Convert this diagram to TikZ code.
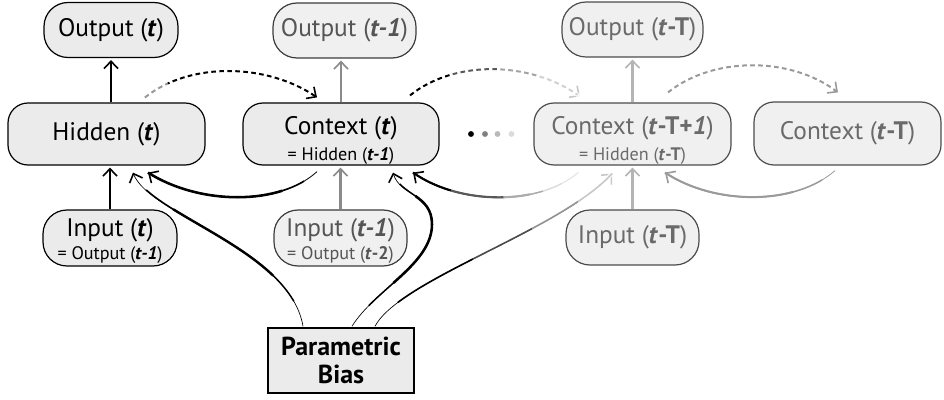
\documentclass[tikz,border=0pt]{standalone}
\usepackage{fontspec}
\setmainfont{PT Sans}
\usetikzlibrary{arrows.meta,calc}
\newcommand{\tbi}[1]{\textbf{\textit{#1}}}
\newcommand{\tbu}[1]{\textbf{#1}}
\newcommand{\subt}[1]{{\fontsize{13.6}{13.6}\selectfont #1}}
\definecolor{fillA}{HTML}{EBEBEB}
\definecolor{fillB}{HTML}{F0F0F0}
\definecolor{txtB}{HTML}{555555}
\definecolor{txtC}{HTML}{6A6A6A}
\definecolor{brdB}{HTML}{3C3C3C}
\definecolor{brdC}{HTML}{4C4C4C}
\definecolor{arrB}{HTML}{8A8A8A}
\definecolor{arrC}{HTML}{B4B4B4}
\definecolor{crvC}{HTML}{9A9A9A}
\definecolor{tipL}{HTML}{C8C8C8}
\begin{document}
\begin{tikzpicture}[x=0.75pt,y=-0.75pt,
  box/.style={draw, line width=0.9pt, fill=fillA, inner sep=0pt, align=center,
              font=\fontsize{19}{19}\selectfont},
  pill/.style={box, rounded corners=18pt},
  rbox/.style={box, rounded corners=15pt},
  grpB/.style={draw=brdB, fill=fillB, text=txtB},
  grpC/.style={draw=brdC, fill=fillB, text=txtC},
  twotxt/.style={align=center, inner sep=0pt, font=\fontsize{19}{19}\selectfont},
  tip/.style={-{Straight Barb[length=5.5pt,width=10.5pt,line width=1.2pt]}},
  tipc/.style={-{Straight Barb[length=5.5pt,width=10.5pt,line width=1.2pt,color=#1]}},
  vert/.style={tip, line width=1.9pt, shorten >=1.5pt},
  dsh/.style={dash pattern=on 3.5pt off 2.5pt, line width=1.5pt},
  thick mid/.style 2 args={postaction={draw,-,line width=#1,dash pattern=#2}},
  fade/.style 2 args={postaction={draw=white,-,opacity=#1,line width=3pt,dash pattern=#2}},
]
\useasboundingbox (0,0) rectangle (944,399);

% nodes
\node[pill, minimum width=100.5pt, minimum height=41.25pt] (out1) at (111,30) {Output (\tbi{t})};
\node[rbox, minimum width=147.75pt, minimum height=46.5pt] (hid) at (106.5,134) {Hidden (\tbi{t})};
\node[pill, minimum width=100.5pt, minimum height=42pt,
      label={[twotxt, name=in1t, yshift=-2pt]center:{Input (\tbi{t})\\[-2pt]\subt{= Output (\tbi{t-1})}}}]
      (in1) at (110,238) {};

\node[pill, grpB, minimum width=107.25pt, minimum height=41.25pt] (out2) at (344.5,30.5) {Output (\tbi{t-1})};
\node[rbox, minimum width=147pt, minimum height=46.5pt,
      label={[twotxt, name=ctx1t, yshift=-4.5pt]center:{Context (\tbi{t})\\[0.5pt]\subt{= Hidden (\tbi{t-1})}}}]
      (ctx1) at (341,134) {};
\node[pill, grpB, minimum width=99.75pt, minimum height=42pt,
      label={[twotxt, text=txtB, name=in2t, yshift=-2pt]center:{Input (\tbi{t-1})\\[-2pt]\subt{= Output (\tbi{t}\tbu{-2})}}}]
      (in2) at (340.5,238) {};

\node[pill, grpC, minimum width=105.75pt, minimum height=41.25pt] (out3) at (632.5,29.5) {Output (\tbi{t}\tbu{-T})};
\node[rbox, grpC, minimum width=147.75pt, minimum height=46.5pt,
      label={[twotxt, text=txtC, name=ctx2t, yshift=-4.5pt]center:{Context (\tbi{t}\tbu{-T+}\tbi{1})\\[0.5pt]\subt{= Hidden (\tbi{t}\tbu{-T})}}}]
      (ctx2) at (632.5,134) {};
\node[rbox, grpC, minimum width=140.25pt, minimum height=47.25pt] (ctx3) at (847.5,133.5) {Context (\tbi{t}\tbu{-T})};
\node[pill, grpC, minimum width=99.75pt, minimum height=41.25pt] (in3) at (632.5,237.5) {Input (\tbi{t}\tbu{-T})};

\node[draw, line width=1.1pt, fill=fillA, inner sep=0pt, minimum width=109.5pt, minimum height=48.75pt,
      align=center, font=\bfseries\fontsize{19.5}{21.5}\selectfont] (pb) at (341,360.5) {Parametric\\Bias};

% dots
\fill[black] (471,134) circle (2.2pt);
\fill[black!50] (485,134) circle (2.2pt);
\fill[black!27] (497.5,134) circle (2.2pt);
\fill[black!14] (511.5,134) circle (2.2pt);

% vertical arrows
\draw[vert] (in1.north) -- (in1.north |- hid.south);
\draw[vert] (out1.south |- hid.north) -- (out1.south);
\draw[vert, draw=arrB] (in2.north) -- (in2.north |- ctx1.south);
\draw[vert, draw=arrB] (ctx1.north) -- (ctx1.north |- out2.south);
\draw[vert, draw=arrC] (in3.north) -- (in3.north |- ctx2.south);
\draw[vert, draw=arrC] (ctx2.north) -- (ctx2.north |- out3.south);

% dashed forward arcs
\draw[tip, dsh, fade={0.6}{on 20pt off 500pt}]
  ($(hid.north)+(38.5,-5)$) .. controls +(45,-36) and +(-50,-34) .. ($(ctx1.north)+(-24,-5)$);
\draw[tipc=tipL, dsh,
      fade={0.35}{on 0pt off 35pt on 500pt off 10pt},
      fade={0.45}{on 0pt off 70pt on 500pt off 10pt},
      fade={0.5}{on 0pt off 100pt on 500pt off 10pt}]
  ($(ctx1.north)+(69,-7)$) .. controls +(45,-36) and +(-50,-35) .. ($(ctx2.north)+(-52.5,-6)$);
\draw[tip, dsh, draw=crvC]
  ($(ctx2.north)+(35.5,-10)$) .. controls +(45,-36) and +(-48,-36) .. ($(ctx3.north)+(-9.5,-9)$);

% backward curves
\draw[tip, line width=0.6pt,
      thick mid={1.2pt}{on 0pt off 12pt on 200pt off 10pt},
      thick mid={1.9pt}{on 0pt off 30pt on 200pt off 10pt}]
  ($(ctx1.south)+(-24,6)$) .. controls +(-37,34) and +(52,33) .. ($(hid.south)+(41.5,7)$);
\draw[tip, line width=0.6pt,
      thick mid={1.1pt}{on 0pt off 15pt on 200pt off 10pt},
      thick mid={1.6pt}{on 0pt off 40pt on 200pt off 10pt},
      fade={0.35}{on 100pt off 500pt},
      fade={0.5}{on 60pt off 500pt},
      fade={0.6}{on 30pt off 500pt}]
  ($(ctx2.south)+(-54.5,7)$) .. controls +(-38,33) and +(47,33) .. ($(ctx1.south)+(72,7)$);
\draw[tip, draw=crvC, line width=0.6pt,
      thick mid={1.1pt}{on 0pt off 12pt on 200pt off 10pt},
      thick mid={1.5pt}{on 0pt off 35pt on 200pt off 10pt}]
  ($(ctx3.south)+(-12.5,5)$) .. controls +(-40,35) and +(50,33) .. ($(ctx2.south)+(32.5,7)$);

% parametric bias curves
\draw[tip, line width=0.5pt,
      thick mid={1.1pt}{on 0pt off 20pt on 140pt off 500pt},
      thick mid={1.8pt}{on 0pt off 45pt on 90pt off 500pt}]
  ($(pb.north)+(-38,-1)$) .. controls +(-13,-77) and +(17,43) .. ($(hid.south)+(26.5,7)$);
\draw[tip, line width=0.5pt,
      thick mid={1.1pt}{on 0pt off 20pt on 120pt off 500pt},
      thick mid={1.9pt}{on 0pt off 45pt on 80pt off 500pt}]
  ($(pb.north)+(11,-1)$) .. controls +(23,-37) and +(0,40) .. ($(pb.north)+(91,-103)$)
  .. controls +(0,-30) and +(7,23) .. ($(ctx1.south)+(52,7)$);
\draw[tipc=tipL, line width=0.5pt,
      thick mid={1.2pt}{on 0pt off 25pt on 300pt off 10pt},
      fade={0.3}{on 0pt off 90pt on 500pt off 10pt},
      fade={0.4}{on 0pt off 140pt on 500pt off 10pt},
      fade={0.5}{on 0pt off 180pt on 500pt off 10pt}]
  ($(pb.north)+(34,-1)$) .. controls +(25,-47) and +(-52,57) .. ($(ctx2.south)+(-20.5,8)$);
\end{tikzpicture}
\end{document}
